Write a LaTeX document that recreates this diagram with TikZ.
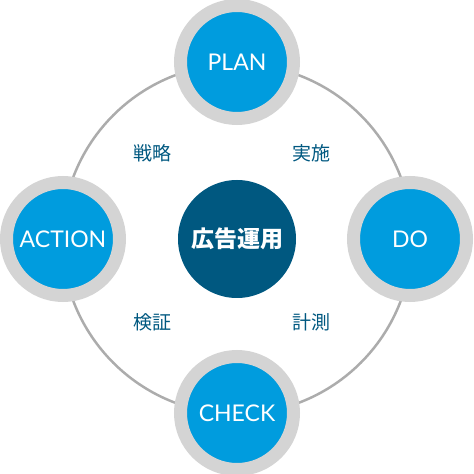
\documentclass[tikz,border=0pt]{standalone}
\usepackage{fontspec}
\setmainfont{Lato}
\newfontfamily\cjk{Noto Sans CJK JP}
\definecolor{phaseblue}{RGB}{0,156,222}
\definecolor{hubblue}{RGB}{0,88,128}
\definecolor{ringgray}{RGB}{212,212,212}
\definecolor{linegray}{RGB}{172,172,172}

\begin{document}
\begin{tikzpicture}[x=1pt,y=1pt,
    phase/.style={circle,fill=phaseblue,draw=ringgray,line width=13pt,
      minimum size=113pt,inner sep=0pt,text=white,
      font=\fontsize{23}{23}\selectfont},
    hub/.style={circle,fill=hubblue,minimum size=118pt,inner sep=0pt,
      text=white,font=\cjk\bfseries\fontsize{23}{23}\selectfont},
    tag/.style={text=hubblue,font=\cjk\fontsize{19}{19}\selectfont}]

        \useasboundingbox (0,0) rectangle (474,474);

        % ------------------------------------------------ cycle ring
        \coordinate (mid) at (237,235);
        \draw[linegray,line width=2.5pt] (mid) circle (175);

        % ------------------------------------------------ four phases
        \node[phase] (plan)   at (237,412) {PLAN};
        \node[phase] (do)     at (410,235) {DO};
        \node[phase] (check)  at (237,61)  {CHECK};
        \node[phase] (action) at (63,235)  {ACTION};

        % ------------------------------------------------ centre
        \node[hub] (core) at (mid) {広告運用};

        % ------------------------------------------------ step labels
        \node[tag] (senryaku) at (152,321) {戦略};
        \node[tag] (jisshi)   at (311,321) {実施};
        \node[tag] (kensho)   at (152,152) {検証};
        \node[tag] (keisoku)  at (311,152) {計測};

\end{tikzpicture}
\end{document}
